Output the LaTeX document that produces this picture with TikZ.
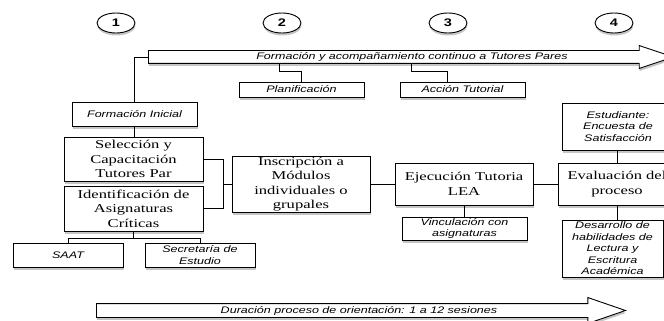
\documentclass[tikz,border=0pt]{standalone}
\usepackage{fontspec}
\setmainfont{Liberation Serif}[FakeStretch=1.38]
\newfontfamily\labelfont{Liberation Sans}[FakeStretch=1.32]
\usetikzlibrary{shapes.geometric,shapes.arrows,shadows,calc}

\begin{document}
\begin{tikzpicture}[x=1pt,y=-1pt,
   shade/.style={drop shadow={shadow xshift=.5pt,shadow yshift=-2.5pt,fill=black!45}},
   box/.style={draw,line width=.9pt,fill=white,shade,inner sep=0pt,align=center,
      font=\fontsize{12}{14.5}\selectfont},
   note/.style={box,font=\labelfont\itshape\fontsize{9.5}{11.5}\selectfont},
   num/.style={ellipse,draw,line width=.9pt,fill=white,shade,inner sep=0pt,
      minimum width=38,minimum height=20,font=\labelfont\bfseries\fontsize{11}{13}\selectfont},
   band/.style={single arrow,draw,line width=.9pt,fill=white,shade,anchor=tail,
      inner sep=0pt,text height=12pt,text depth=0pt,single arrow head extend=5pt,
      single arrow tip angle=37},
   bandtext/.style={inner sep=0pt,font=\labelfont\itshape\fontsize{9.5}{11.5}\selectfont},
   link/.style={line width=.9pt}]
\useasboundingbox (0,0) rectangle (664,321);

\node[num] (n1) at (116,23) {1};
\node[num] (n2) at (282,23) {2};
\node[num] (n3) at (448,23) {3};
\node[num] (n4) at (614,23) {4};

\node[band,minimum height=525] (formarrow) at (148,57) {};
\node[bandtext] (formtext) at (412,57) {Formación y acompañamiento continuo a Tutores Pares};

\node[note,minimum width=125,minimum height=15] (plan) at (301.5,89.5) {Planificación};
\node[note,minimum width=125,minimum height=15] (acci) at (462.5,89.5) {Acción Tutorial};

\node[note,minimum width=125,minimum height=24] (fini) at (134.5,114) {Formación Inicial};
\node[box,minimum width=139,minimum height=44] (sel) at (133.5,159) {Selección y\\Capacitación\\Tutores Par};
\node[box,minimum width=139,minimum height=45] (ident) at (133.5,208.5) {Identificación de\\Asignaturas\\Críticas};
\node[note,minimum width=110,minimum height=24] (saat) at (68,255) {SAAT};
\node[note,minimum width=110,minimum height=24] (secr) at (200,255) {Secretaría de\\Estudio};

\node[box,minimum width=138,minimum height=56] (insc) at (301,184) {Inscripción a\\Módulos\\individuales o\\grupales};
\node[box,minimum width=138,minimum height=42] (ejec) at (464,184) {Ejecución Tutoria\\LEA};
\node[note,minimum width=125,minimum height=23] (vinc) at (464.5,228.5) {Vinculación con\\asignaturas};

\node[box,minimum width=118,minimum height=42] (eval) at (617,184) {Evaluación del\\proceso};
\node[note,minimum width=112,minimum height=47] (estu) at (618,126.5) {Estudiante:\\Encuesta de\\Satisfacción};
\node[note,minimum width=101,minimum height=57] (desa) at (612.5,248.5) {Desarrollo de\\habilidades de\\Lectura y\\Escritura\\Académica};

\node[band,minimum height=529,text height=13pt,single arrow head extend=6pt,single arrow tip angle=38] (durarrow) at (96,310.5) {};
\node[bandtext] (durtext) at (359,310.5) {Duración proceso de orientación: 1 a 12 sesiones};

\draw[link] (formarrow.tail) -| (fini.north);
\draw[link] (plan.north) -- ++(0,-10) -- ++(-22.5,0) -- ++(0,-9);
\draw[link] ($(acci.north)+(-15.5,0)$) -- ++(0,-10) -- ++(-36,0) -- ++(0,-9);
\draw[link] (fini.south) -- (fini.south |- sel.north);
\draw[link] (sel.east) -- ++(20,0) coordinate (joint) |- (ident.east);
\draw[link] (insc.west) -- (insc.west -| joint);
\draw[link] (ident.south) -- ++(0,7) coordinate (fork);
\draw[link] (saat.north) |- (fork) -| (secr.north);
\draw[link] (insc.east) -- (ejec.west);
\draw[link] (ejec.east) -- (eval.west);
\draw[link] (ejec.south) -- (ejec.south |- vinc.north);
\draw[link] (eval.north) -- (eval.north |- estu.south);
\draw[link] (eval.south) -- (eval.south |- desa.north);
\end{tikzpicture}
\end{document}
